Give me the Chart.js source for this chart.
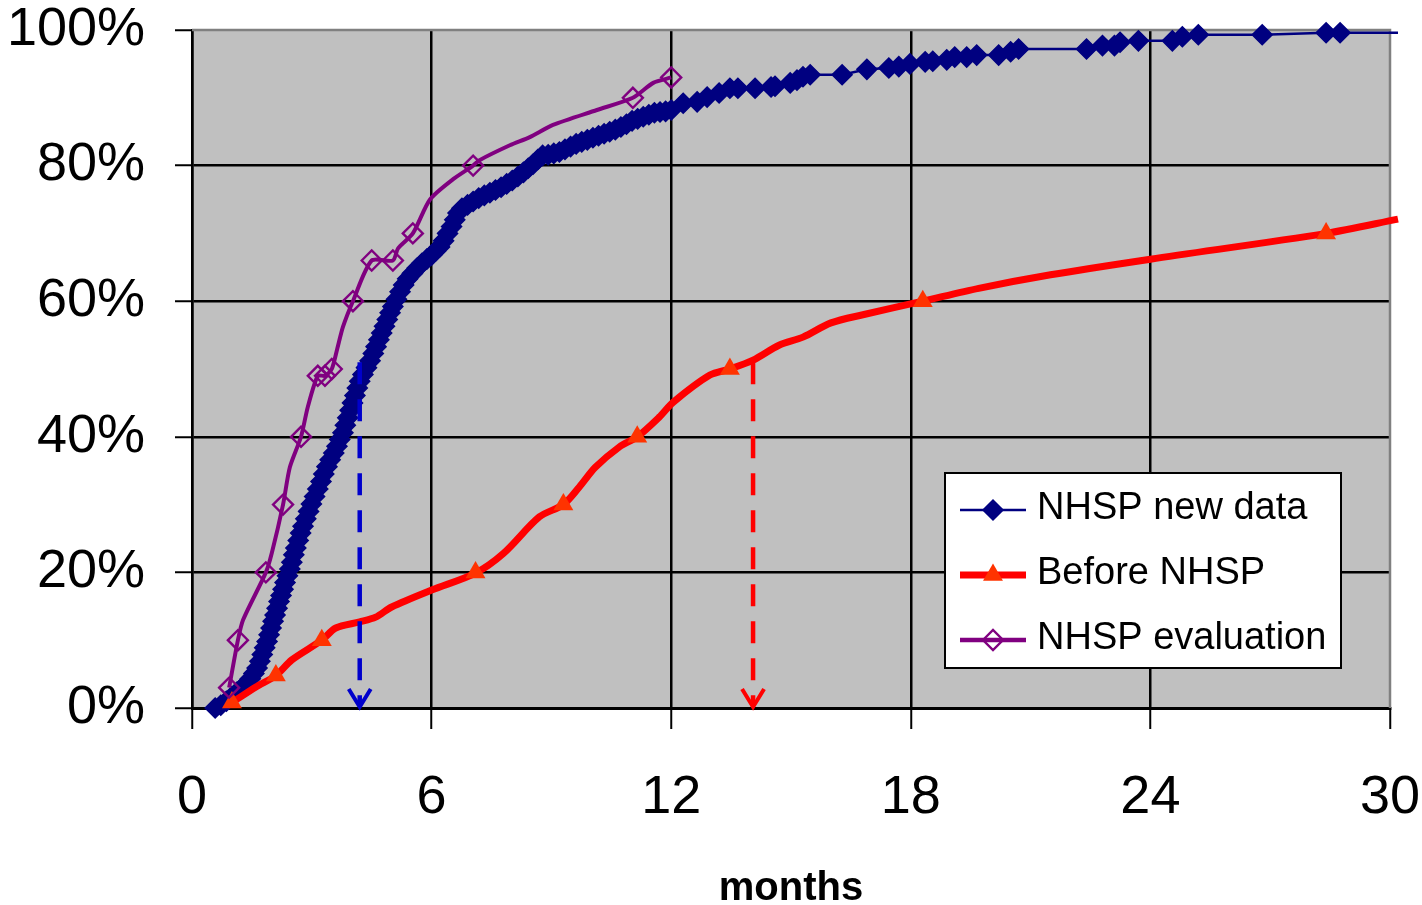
<!DOCTYPE html>
<html>
<head>
<meta charset="utf-8">
<script src="https://cdn.jsdelivr.net/npm/chart.js@4/dist/chart.umd.min.js"></script>
<style>
  html, body { margin: 0; padding: 0; background: #ffffff; }
  #wrap { width: 1422px; height: 905px; }
</style>
</head>
<body>
<div id="wrap"><canvas id="c" width="1422" height="905"></canvas></div>
<script>
// Cumulative share of children (percent) against age in months.
const seriesNames = ['NHSP new data', 'Before NHSP', 'NHSP evaluation'];
const axisTitle = 'months';

// NHSP new data: one marker per observation
const newDataMonths = [
  0.58, 0.72, 0.86, 1.00, 1.12, 1.24, 1.36, 1.46, 1.55, 1.63, 1.70, 1.76, 1.82, 1.88, 1.93, 1.98,
  2.03, 2.08, 2.13, 2.18, 2.23, 2.28, 2.33, 2.39, 2.45, 2.50, 2.55, 2.60, 2.66, 2.72, 2.78, 2.85,
  2.92, 2.99, 3.07, 3.15, 3.23, 3.30, 3.38, 3.46, 3.55, 3.63, 3.70, 3.78, 3.84, 3.90, 3.96, 4.02,
  4.08, 4.14, 4.20, 4.28, 4.37, 4.46, 4.54, 4.61, 4.68, 4.75, 4.82, 4.89, 4.96, 5.03, 5.12, 5.21,
  5.30, 5.40, 5.52, 5.64, 5.76, 5.88, 6.00, 6.10, 6.20, 6.30, 6.40, 6.50, 6.58, 6.66, 6.76, 6.90,
  7.04, 7.18, 7.32, 7.46, 7.60, 7.74, 7.88, 8.02, 8.16, 8.30, 8.42, 8.54, 8.66, 8.78, 8.92, 9.06,
  9.20, 9.34, 9.48, 9.62, 9.76, 9.90, 10.04, 10.18, 10.32, 10.46, 10.60, 10.74, 10.88, 11.02, 11.16, 11.30,
  11.44, 11.58, 11.72, 11.86, 12.00, 12.30, 12.65, 12.90, 13.20, 13.47, 13.67, 14.10, 14.50, 14.60, 14.98, 15.15,
  15.30, 15.48, 16.28, 16.90, 17.45, 17.70, 17.98, 18.36, 18.55, 18.90, 19.10, 19.40, 19.65, 20.20, 20.50, 20.70,
  22.40, 22.80, 23.10, 23.24, 23.70, 24.55, 24.80, 25.20, 26.80, 28.40, 28.75, 30.20
];
const newDataPct = [
  0.0, 0.4, 1.0, 1.7, 2.3, 2.9, 3.6, 4.3, 5.1, 5.9, 6.9, 7.9, 8.9, 9.8, 10.8, 11.8,
  12.8, 13.7, 14.7, 15.7, 16.6, 17.5, 18.5, 19.5, 20.5, 21.5, 22.6, 23.6, 24.7, 25.8, 26.8, 27.9,
  29.0, 30.1, 31.2, 32.3, 33.4, 34.5, 35.6, 36.6, 37.6, 38.6, 39.6, 40.6, 41.7, 42.8, 43.9, 45.0,
  46.1, 47.2, 48.2, 49.2, 50.2, 51.2, 52.3, 53.3, 54.3, 55.3, 56.3, 57.3, 58.3, 59.2, 60.3, 61.4,
  62.4, 63.3, 64.1, 64.9, 65.6, 66.2, 66.8, 67.4, 68.0, 68.9, 70.0, 71.0, 72.0, 73.0, 73.7, 74.2,
  74.7, 75.2, 75.6, 76.0, 76.4, 76.8, 77.3, 77.8, 78.4, 79.0, 79.6, 80.2, 80.9, 81.5, 81.6, 81.8,
  82.0, 82.4, 82.8, 83.2, 83.5, 83.8, 84.1, 84.4, 84.7, 85.0, 85.3, 85.7, 86.1, 86.6, 86.9, 87.2,
  87.5, 87.8, 87.9, 88.0, 88.2, 89.2, 89.4, 90.1, 90.7, 91.4, 91.4, 91.4, 91.6, 91.7, 92.2, 92.6,
  93.1, 93.4, 93.4, 94.2, 94.4, 94.6, 95.0, 95.3, 95.4, 95.6, 96.0, 96.0, 96.3, 96.3, 96.8, 97.2,
  97.2, 97.7, 97.7, 98.2, 98.4, 98.4, 99.0, 99.3, 99.3, 99.6, 99.6, 99.6
];

// Before NHSP: curve and its marked points
const beforeMonths = [
  1.0, 1.6, 2.1, 2.5, 3.25, 3.6, 4.2, 4.6, 5.0, 6.0, 7.1, 7.8, 8.7, 9.3, 9.7, 10.1, 10.7,
  11.15, 11.7, 12.05, 12.97, 13.47, 14.05, 14.7, 15.3, 16.0, 16.8, 18.3, 19.7, 21.5, 24.0, 28.4, 30.2
];
const beforePct = [
  0.8, 3.1, 4.8, 7.1, 10.0, 11.8, 12.7, 13.4, 14.9, 17.4, 19.9, 22.8, 28.2, 30.0, 32.6, 35.5, 38.5,
  40.0, 42.9, 45.1, 49.1, 50.0, 51.3, 53.5, 54.7, 56.8, 58.0, 60.0, 61.9, 63.9, 66.2, 70.0, 72.1
];
const beforeMarkMonths = [1.0, 2.1, 3.25, 7.1, 9.3, 11.15, 13.47, 18.3, 28.4];
const beforeMarkPct = [0.8, 4.8, 10, 20, 30, 40, 50, 60, 70];

// NHSP evaluation: curve and its marked points
const evalMonths = [
  0.93, 1.15, 1.28, 1.85, 2.0, 2.28, 2.45, 2.73, 2.9, 3.15, 3.33, 3.5, 3.63, 3.78, 4.03, 4.5,
  5.03, 5.16, 5.53, 5.96, 6.54, 7.04, 7.2, 7.96, 8.46, 9.04, 10.14, 11.04, 11.55, 12.0
];
const evalPct = [
  3, 10, 13, 20, 22.9, 30, 35.5, 40, 44.4, 49, 49, 50, 52.8, 56.2, 60, 66,
  66, 67.8, 70, 75, 78, 80, 80.8, 83, 84.2, 86, 88.2, 90, 92.2, 93
];
const evalMarkMonths = [0.93, 1.15, 1.85, 2.28, 2.73, 3.15, 3.33, 3.5, 4.03, 4.5, 5.03, 5.53, 7.04, 11.04, 12.0];
const evalMarkPct = [3, 10, 20, 30, 40, 49, 49, 50, 60, 66, 66, 70, 80, 90, 93];

// Median read-off arrows (month where each curve passes 50%)
const medianMonths = [4.2, 14.05];
const medianFromPct = [51, 51];

const pairs = (xs, ys) => xs.map((x, i) => ({ x: x, y: ys[i] }));

const NAVY = '#000080', RED = '#FF0000', TRI = '#FF3300', PURPLE = '#800080';
const FONT = "'Liberation Sans', Arial, Helvetica, sans-serif";
const lastNew = newDataMonths.length - 1;

// grey plot background and the grey top/right frame
const plotFrame = {
  id: 'plotFrame',
  beforeDraw(chart) {
    const a = chart.chartArea, ctx = chart.ctx;
    ctx.save();
    ctx.fillStyle = '#C0C0C0';
    ctx.fillRect(a.left, a.top, a.right - a.left, a.bottom - a.top);
    ctx.restore();
  },
  beforeDatasetsDraw(chart) {
    const a = chart.chartArea, ctx = chart.ctx;
    ctx.save();
    ctx.strokeStyle = '#808080';
    ctx.lineWidth = 2.5;
    ctx.beginPath();
    ctx.moveTo(a.left, a.top);
    ctx.lineTo(a.right, a.top);
    ctx.lineTo(a.right, a.bottom);
    ctx.stroke();
    ctx.restore();
  }
};

// dashed arrows dropping from each curve's median to the month axis
const medianArrows = {
  id: 'medianArrows',
  afterDatasetsDraw(chart) {
    const xs = chart.scales.x, ys = chart.scales.y, ctx = chart.ctx;
    const colors = ['#0000CC', '#FF0000'];
    ctx.save();
    medianMonths.forEach((m, i) => {
      const px = xs.getPixelForValue(m);
      const top = ys.getPixelForValue(medianFromPct[i]);
      const bottom = ys.getPixelForValue(0);
      ctx.strokeStyle = colors[i];
      ctx.lineWidth = 4.5;
      ctx.setLineDash([22, 15]);
      ctx.beginPath();
      ctx.moveTo(px, top);
      ctx.lineTo(px, bottom - 4);
      ctx.stroke();
      ctx.setLineDash([]);
      ctx.lineWidth = 4;
      ctx.beginPath();
      ctx.moveTo(px - 11, bottom - 19);
      ctx.lineTo(px, bottom - 1);
      ctx.lineTo(px + 11, bottom - 19);
      ctx.stroke();
    });
    ctx.restore();
  }
};

// boxed legend with line + marker samples
const boxLegend = {
  id: 'boxLegend',
  afterDraw(chart) {
    const ctx = chart.ctx;
    const bx = 945, by = 473, bw = 396, bh = 195;
    const rows = [
      { color: NAVY, width: 2.5, style: 'rectRot', r: 10, fill: NAVY, bw: 1.5 },
      { color: RED, width: 7, style: 'triangle', r: 11.5, fill: TRI, bw: 0 },
      { color: PURPLE, width: 4.5, style: 'rectRot', r: 10, fill: 'rgba(0,0,0,0)', bw: 2.4 }
    ];
    ctx.save();
    ctx.fillStyle = '#ffffff';
    ctx.fillRect(bx, by, bw, bh);
    ctx.strokeStyle = '#000000';
    ctx.lineWidth = 2;
    ctx.strokeRect(bx, by, bw, bh);
    rows.forEach((r, i) => {
      const cy = 510 + i * 65;
      ctx.strokeStyle = r.color;
      ctx.lineWidth = r.width;
      ctx.beginPath();
      ctx.moveTo(960, cy);
      ctx.lineTo(1026, cy);
      ctx.stroke();
      ctx.fillStyle = r.fill;
      ctx.strokeStyle = r.color;
      ctx.lineWidth = r.bw;
      Chart.helpers.drawPoint(ctx, { pointStyle: r.style, rotation: 0, radius: r.r, borderWidth: r.bw }, 993, cy);
      ctx.fillStyle = '#000000';
      ctx.font = '38px ' + FONT;
      ctx.textBaseline = 'middle';
      ctx.textAlign = 'left';
      ctx.fillText(seriesNames[i], 1037, cy - 1);
    });
    ctx.restore();
  }
};

new Chart(document.getElementById('c'), {
  type: 'line',
  data: {
    datasets: [
      {
        label: seriesNames[2] + ' markers',
        data: pairs(evalMarkMonths, evalMarkPct),
        showLine: false,
        pointStyle: 'rectRot',
        pointRadius: 10,
        pointBorderWidth: 2.4,
        pointBorderColor: PURPLE,
        pointBackgroundColor: 'rgba(0,0,0,0)',
        clip: false,
        order: 1
      },
      {
        label: seriesNames[2],
        data: pairs(evalMonths, evalPct),
        borderColor: PURPLE,
        borderWidth: 4,
        tension: 0.25,
        pointRadius: 0,
        clip: false,
        order: 2
      },
      {
        label: seriesNames[1] + ' markers',
        data: pairs(beforeMarkMonths, beforeMarkPct),
        showLine: false,
        pointStyle: 'triangle',
        pointRadius: 11.5,
        pointBorderWidth: 0,
        pointBackgroundColor: TRI,
        clip: false,
        order: 3
      },
      {
        label: seriesNames[1],
        data: pairs(beforeMonths, beforePct),
        borderColor: RED,
        borderWidth: 7,
        tension: 0.3,
        pointRadius: 0,
        clip: false,
        order: 4
      },
      {
        label: seriesNames[0],
        data: pairs(newDataMonths, newDataPct),
        borderColor: NAVY,
        borderWidth: 2.5,
        tension: 0,
        pointStyle: 'rectRot',
        pointRadius: (c) => (c.dataIndex === lastNew ? 0 : 10),
        pointBorderWidth: (c) => (c.dataIndex === lastNew ? 0 : 1.5),
        pointBorderColor: NAVY,
        pointBackgroundColor: NAVY,
        clip: false,
        order: 5
      }
    ]
  },
  options: {
    responsive: false,
    animation: false,
    devicePixelRatio: 1,
    layout: { padding: { top: 30, right: 32, left: 0, bottom: 0 } },
    plugins: {
      legend: { display: false },
      tooltip: { enabled: false }
    },
    scales: {
      x: {
        type: 'linear',
        min: 0,
        max: 30,
        ticks: {
          stepSize: 6,
          color: '#000000',
          font: { family: FONT, size: 54, lineHeight: 1 },
          padding: 42,
          maxRotation: 0
        },
        grid: {
          color: (c) => (c.tick && c.tick.value === 30 ? 'rgba(0,0,0,0)' : '#000000'),
          lineWidth: 2.5,
          tickLength: 21,
          tickColor: '#000000',
          tickWidth: 2
        },
        border: { color: '#000000', width: 3 },
        title: {
          display: true,
          text: axisTitle,
          color: '#000000',
          font: { family: FONT, size: 40, weight: 'bold', lineHeight: 0.8 },
          padding: { top: 0, bottom: 0 }
        },
        afterFit(scale) {
          scale.height = 197;
          scale.paddingLeft = 0;
          scale.paddingRight = 0;
        }
      },
      y: {
        min: 0,
        max: 100,
        ticks: {
          stepSize: 20,
          color: '#000000',
          font: { family: FONT, size: 54, lineHeight: 1 },
          padding: 30,
          callback: (v) => v + '%'
        },
        grid: {
          color: (c) => (c.tick && c.tick.value === 100 ? 'rgba(0,0,0,0)' : '#000000'),
          lineWidth: 2.5,
          tickLength: 17,
          tickColor: '#000000',
          tickWidth: 2
        },
        border: { color: '#000000', width: 2.5 },
        afterFit(scale) {
          scale.width = 192;
          scale.paddingTop = 0;
          scale.paddingBottom = 0;
        }
      }
    }
  },
  plugins: [plotFrame, medianArrows, boxLegend]
});
</script>
</body>
</html>
